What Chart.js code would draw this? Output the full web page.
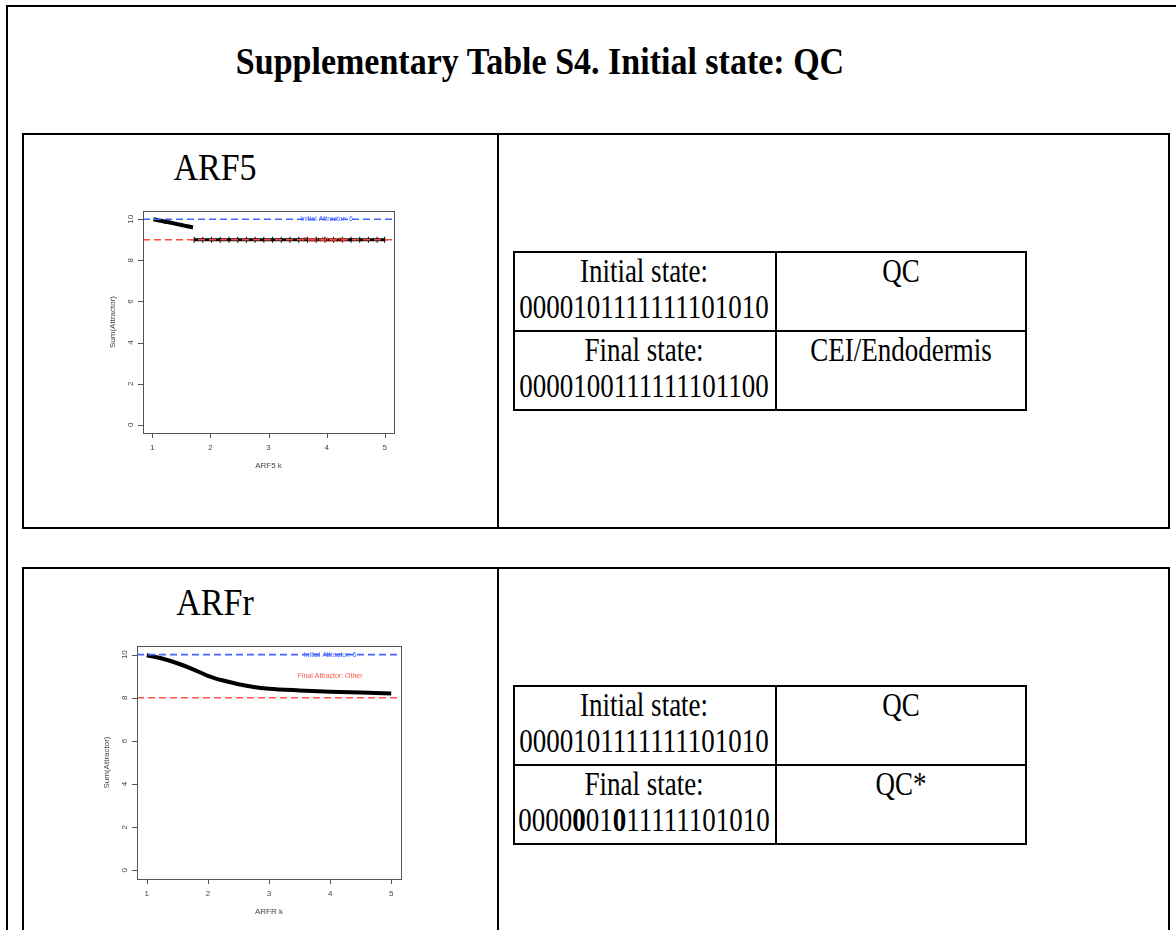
<!DOCTYPE html>
<html>
<head>
<meta charset="utf-8">
<script src="https://cdn.jsdelivr.net/npm/chart.js@4.4.1/dist/chart.umd.min.js"></script>
<style>
body { margin:0; background:#fff; width:1176px; height:930px; overflow:hidden; position:relative;
       font-family:"Liberation Serif","Times New Roman",serif; color:#000; }
.box { position:absolute; border:2px solid #000; box-sizing:border-box; }
.vl { position:absolute; width:2px; background:#000; }
.hl { position:absolute; height:2px; background:#000; }
.txt { position:absolute; white-space:nowrap; font-size:27px; line-height:1;
       transform:translate(-50%,-50%) scaleY(1.26); }
.big { font-size:34px; transform:translate(-50%,-50%) scaleY(1.1); }
.b { font-weight:bold; }
canvas { position:absolute; }
</style>
</head>
<body>
<div class="box" style="left:6px;top:5px;width:1300px;height:1100px"></div>
<div class="txt big b" style="left:540px;top:62px">Supplementary Table S4. Initial state: QC</div>

<!-- bloque ARF5 -->
<div class="box" style="left:22px;top:133px;width:1148px;height:396px"></div>
<div class="vl" style="left:497px;top:133px;height:396px"></div>
<div class="txt big" style="left:215px;top:168px">ARF5</div>
<canvas id="chartArf5" width="310" height="280" style="left:95px;top:200px"></canvas>
<div class="box" style="left:513px;top:251px;width:514px;height:160px"></div>
<div class="vl" style="left:775px;top:251px;height:160px"></div>
<div class="hl" style="left:513px;top:330px;width:514px"></div>
<div class="txt" style="left:644px;top:271px">Initial state:</div>
<div class="txt" style="left:644px;top:307px">0000101111111101010</div>
<div class="txt" style="left:901px;top:271px">QC</div>
<div class="txt" style="left:644px;top:350px">Final state:</div>
<div class="txt" style="left:644px;top:386px">0000100111111101100</div>
<div class="txt" style="left:901px;top:350px">CEI/Endodermis</div>

<!-- bloque ARFr -->
<div class="box" style="left:22px;top:567px;width:1148px;height:420px"></div>
<div class="vl" style="left:497px;top:567px;height:420px"></div>
<div class="txt big" style="left:215px;top:603px">ARFr</div>
<canvas id="chartArfr" width="323" height="291" style="left:89px;top:635px"></canvas>
<div class="box" style="left:513px;top:685px;width:514px;height:160px"></div>
<div class="vl" style="left:775px;top:685px;height:160px"></div>
<div class="hl" style="left:513px;top:764px;width:514px"></div>
<div class="txt" style="left:644px;top:705px">Initial state:</div>
<div class="txt" style="left:644px;top:741px">0000101111111101010</div>
<div class="txt" style="left:901px;top:705px">QC</div>
<div class="txt" style="left:644px;top:784px">Final state:</div>
<div class="txt" style="left:644px;top:820px">0000<b>0</b>01<b>0</b>11111101010</div>
<div class="txt" style="left:901px;top:784px">QC*</div>

<script>
// ARF5: tramo inicial y tramo final (Sum(Attractor) frente a k)
const arf5K1 = [1.02, 1.1, 1.2, 1.3, 1.4, 1.5, 1.6, 1.7];
const arf5Y1 = [10.0, 9.95, 9.89, 9.84, 9.78, 9.72, 9.66, 9.6];
const arf5K2 = [1.72, 1.87, 2.02, 2.17, 2.32, 2.47, 2.62, 2.77, 2.92, 3.07, 3.22, 3.37, 3.52,
                3.67, 3.82, 3.97, 4.12, 4.27, 4.42, 4.57, 4.72, 4.87, 5.0];
const arf5Y2 = [9, 9, 9, 9, 9, 9, 9, 9, 9, 9, 9, 9, 9, 9, 9, 9, 9, 9, 9, 9, 9, 9, 9];

// ARFr
const arfrK = [1.0, 1.25, 1.5, 1.75, 2.0, 2.25, 2.5, 2.75, 3.0, 3.5, 4.0, 4.5, 5.0];
const arfrY = [9.97, 9.82, 9.6, 9.33, 9.02, 8.8, 8.63, 8.5, 8.42, 8.34, 8.28, 8.24, 8.2];

const xTicks = [1, 2, 3, 4, 5];
const yTicks = [0, 2, 4, 6, 8, 10];

// lineas de referencia (abline) y sus etiquetas
const arf5Lines = [
    { value: 10, color: 'rgb(70,100,255)', label: 'Initial Attractor: 6', labelK: 4.0, labelY: 10 },
    { value: 9, color: 'rgb(255,70,60)', label: 'Final Attractor', labelK: 3.97, labelY: 9 }
];
const arfrLines = [
    { value: 10, color: 'rgb(70,100,255)', label: 'Initial Attractor: 6', labelK: 4.0, labelY: 10 },
    { value: 8, color: 'rgb(255,85,75)', label: 'Final Attractor: Other', labelK: 4.0, labelY: 9 }
];

const fuente = '"Liberation Sans", Arial, sans-serif';
const gris = '#444';

// dibuja caja, ejes y abline al estilo R
const estiloR = {
    id: 'estiloR',
    afterDatasetsDraw(chart, args, opts) {
        const { ctx, chartArea: a, scales: { x, y } } = chart;
        ctx.save();
        opts.lines.forEach(l => {
            const py = y.getPixelForValue(l.value);
            ctx.strokeStyle = l.color;
            ctx.lineWidth = 1.6;
            ctx.setLineDash([7, 4]);
            ctx.beginPath();
            ctx.moveTo(a.left, py);
            ctx.lineTo(a.right, py);
            ctx.stroke();
        });
        ctx.setLineDash([]);
        ctx.font = '7px ' + fuente;
        ctx.textAlign = 'center';
        ctx.textBaseline = 'middle';
        opts.lines.forEach(l => {
            ctx.fillStyle = l.color;
            ctx.fillText(l.label, x.getPixelForValue(l.labelK), y.getPixelForValue(l.labelY));
        });

        ctx.strokeStyle = '#555';
        ctx.lineWidth = 1;
        ctx.strokeRect(a.left + 0.5, a.top + 0.5, a.right - a.left, a.bottom - a.top);

        // eje y
        const y0 = y.getPixelForValue(yTicks[0]);
        const y1 = y.getPixelForValue(yTicks[yTicks.length - 1]);
        ctx.beginPath();
        ctx.moveTo(a.left + 0.5, y0);
        ctx.lineTo(a.left + 0.5, y1);
        yTicks.forEach(v => {
            const py = Math.round(y.getPixelForValue(v)) + 0.5;
            ctx.moveTo(a.left, py);
            ctx.lineTo(a.left - 5, py);
        });
        // eje x
        const x0 = x.getPixelForValue(xTicks[0]);
        const x1 = x.getPixelForValue(xTicks[xTicks.length - 1]);
        ctx.moveTo(x0, a.bottom + 0.5);
        ctx.lineTo(x1, a.bottom + 0.5);
        xTicks.forEach(v => {
            const px = Math.round(x.getPixelForValue(v)) + 0.5;
            ctx.moveTo(px, a.bottom);
            ctx.lineTo(px, a.bottom + 5);
        });
        ctx.stroke();

        ctx.fillStyle = gris;
        ctx.font = '8px ' + fuente;
        yTicks.forEach(v => {
            ctx.save();
            ctx.translate(a.left - 12, y.getPixelForValue(v));
            ctx.rotate(-Math.PI / 2);
            ctx.fillText(String(v), 0, 0);
            ctx.restore();
        });
        ctx.restore();
    }
};

function crearGrafica(id, datasets, lines, xTitle) {
    return new Chart(document.getElementById(id), {
        type: 'scatter',
        data: { datasets },
        options: {
            responsive: false,
            animation: false,
            devicePixelRatio: 1,
            layout: { padding: { top: 11, right: 11, left: 0, bottom: 0 } },
            plugins: {
                legend: { display: false },
                tooltip: { enabled: false },
                estiloR: { lines }
            },
            scales: {
                x: {
                    type: 'linear',
                    min: 0.84,
                    max: 5.16,
                    afterBuildTicks: s => { s.ticks = xTicks.map(v => ({ value: v })); },
                    afterFit: s => { s.height = 47; },
                    grid: { display: false, drawTicks: false },
                    border: { display: false },
                    ticks: { color: gris, font: { family: fuente, size: 8 }, padding: 10, maxRotation: 0 },
                    title: { display: true, text: xTitle, color: gris, font: { family: fuente, size: 8 }, padding: { top: 0, bottom: 9 } }
                },
                y: {
                    type: 'linear',
                    min: -0.4,
                    max: 10.4,
                    afterBuildTicks: s => { s.ticks = yTicks.map(v => ({ value: v })); },
                    afterFit: s => { s.width = 48; },
                    grid: { display: false, drawTicks: false },
                    border: { display: false },
                    ticks: { display: false },
                    title: { display: true, text: 'Sum(Attractor)', color: gris, font: { family: fuente, size: 8 }, padding: { top: 13, bottom: 0 } }
                }
            }
        },
        plugins: [estiloR]
    });
}

const puntos = (ks, ys) => ks.map((k, i) => ({ x: k, y: ys[i] }));

crearGrafica('chartArf5', [
    { data: puntos(arf5K1, arf5Y1), showLine: true, borderColor: '#000', borderWidth: 4, pointRadius: 0, tension: 0.3 },
    { data: puntos(arf5K2, arf5Y2), showLine: true, borderColor: '#000', borderWidth: 3, pointRadius: 3,
      pointStyle: 'cross', pointBorderColor: '#000', pointBorderWidth: 1 }
], arf5Lines, 'ARF5 k');

crearGrafica('chartArfr', [
    { data: puntos(arfrK, arfrY), showLine: true, borderColor: '#000', borderWidth: 4, pointRadius: 0,
      cubicInterpolationMode: 'monotone' }
], arfrLines, 'ARFR k');
</script>
</body>
</html>
